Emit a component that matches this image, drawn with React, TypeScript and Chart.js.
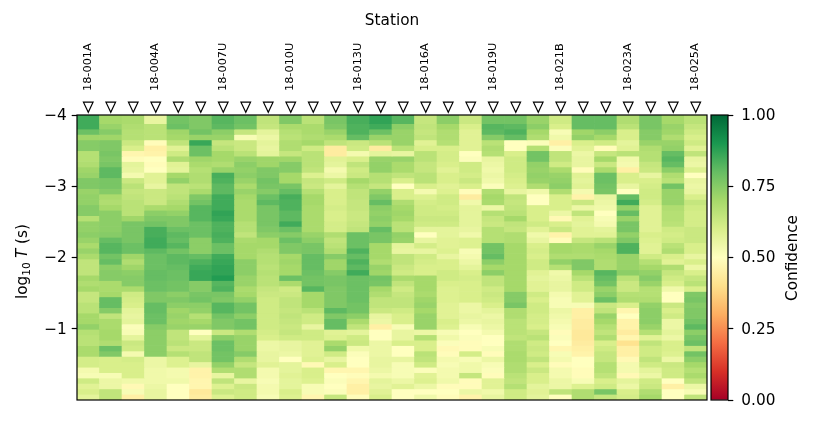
import React, { useEffect, useRef } from "react";
import { Chart, registerables } from "chart.js";

Chart.register(...registerables);

const FONT = "'DejaVu Sans'";

const stationLabels = [
  "18-001A", "", "", "18-004A", "", "", "18-007U", "", "", "18-010U", "", "", "18-013U", "",
  "", "18-016A", "", "", "18-019U", "", "", "18-021B", "", "", "18-023A", "", "", "18-025A",
];

const yTicks = [-4, -3, -2, -1];
const cbarTicks = [0, 0.25, 0.5, 0.75, 1];
const markerLevel = -4.112;

// log10 T edges of the rows: the first row is wider than the others
const firstRowEnd = -3.8786;
const rowStep = 0.07597;

const col01 = [.85,.85,.79,.71,.75,.75,.67,.67,.68,.71,.72,.76,.76,.72,.73,.73,.75,.75,.67,.73,.73,.74,.72,.69,.72,.69,.65,.65,.65,.7,.68,.7,.64,.64,.66,.66,.7,.7,.73,.67,.66,.66,.69,.69,.61,.61,.53,.52,.62,.58,.6,.57];
const col02 = [.7,.72,.75,.71,.76,.76,.77,.76,.77,.81,.81,.77,.77,.75,.69,.68,.7,.74,.74,.74,.74,.75,.8,.82,.82,.78,.8,.74,.75,.75,.69,.69,.7,.8,.8,.75,.65,.69,.69,.7,.7,.68,.79,.76,.6,.6,.6,.52,.55,.55,.65,.65];
const col03 = [.69,.68,.67,.67,.63,.6,.47,.49,.57,.56,.53,.63,.66,.64,.65,.66,.66,.66,.71,.77,.77,.77,.77,.79,.79,.71,.68,.71,.74,.75,.75,.69,.62,.61,.6,.57,.56,.57,.51,.52,.57,.63,.62,.53,.61,.6,.6,.6,.54,.48,.52,.45];
const col04 = [.56,.66,.66,.66,.49,.45,.46,.5,.49,.5,.58,.58,.56,.63,.63,.63,.69,.74,.76,.78,.84,.84,.85,.85,.81,.79,.79,.79,.8,.8,.79,.79,.76,.76,.8,.8,.79,.79,.75,.74,.74,.74,.74,.74,.55,.55,.54,.54,.54,.55,.56,.56];
const col05 = [.78,.79,.71,.7,.65,.58,.62,.68,.58,.57,.7,.73,.65,.65,.66,.68,.7,.73,.76,.76,.79,.81,.8,.82,.78,.81,.81,.8,.79,.79,.78,.78,.74,.76,.74,.71,.72,.71,.72,.65,.65,.66,.63,.67,.59,.59,.53,.53,.54,.5,.5,.5];
const col06 = [.76,.76,.78,.72,.86,.79,.79,.71,.69,.67,.68,.68,.66,.69,.76,.78,.82,.82,.82,.79,.79,.79,.74,.74,.74,.8,.83,.85,.86,.86,.75,.75,.77,.78,.74,.73,.67,.7,.72,.5,.57,.63,.63,.65,.65,.56,.46,.46,.47,.47,.43,.44];
const col07 = [.82,.81,.74,.72,.64,.66,.7,.7,.68,.72,.84,.83,.81,.81,.85,.85,.85,.87,.86,.83,.83,.84,.83,.79,.79,.85,.86,.87,.87,.89,.82,.83,.77,.76,.82,.82,.78,.76,.76,.63,.74,.79,.79,.78,.78,.73,.68,.56,.65,.59,.63,.59];
const col08 = [.79,.78,.64,.52,.63,.63,.66,.72,.74,.73,.74,.72,.69,.72,.7,.69,.69,.69,.69,.67,.67,.65,.69,.7,.7,.7,.74,.74,.74,.72,.72,.69,.7,.73,.78,.78,.74,.78,.78,.68,.72,.72,.72,.75,.68,.64,.68,.68,.56,.63,.62,.62];
const col09 = [.65,.64,.57,.55,.57,.56,.57,.71,.71,.76,.76,.78,.77,.75,.79,.81,.77,.77,.77,.77,.76,.74,.7,.7,.68,.67,.67,.66,.67,.66,.66,.64,.63,.62,.62,.62,.62,.62,.62,.61,.6,.55,.55,.56,.56,.58,.53,.53,.52,.53,.53,.52];
const col10 = [.76,.69,.67,.66,.68,.68,.64,.71,.75,.75,.7,.7,.77,.8,.84,.83,.83,.81,.81,.85,.79,.75,.79,.76,.76,.7,.71,.7,.7,.79,.69,.62,.63,.65,.65,.64,.65,.64,.63,.64,.62,.56,.56,.55,.5,.57,.57,.58,.57,.57,.6,.59];
const col11 = [.66,.69,.69,.68,.7,.62,.66,.66,.66,.65,.59,.64,.63,.67,.7,.7,.69,.69,.69,.69,.69,.72,.74,.77,.77,.8,.8,.8,.79,.78,.78,.82,.7,.7,.7,.66,.62,.62,.56,.62,.62,.58,.58,.58,.59,.48,.6,.6,.59,.52,.52,.47];
const col12 = [.77,.76,.72,.69,.65,.44,.44,.58,.57,.53,.55,.62,.57,.6,.6,.6,.61,.6,.6,.61,.61,.68,.65,.66,.68,.75,.71,.71,.75,.77,.77,.76,.76,.76,.76,.81,.76,.8,.8,.58,.59,.69,.73,.62,.56,.6,.47,.5,.51,.5,.51,.64];
const col13 = [.84,.83,.83,.8,.63,.62,.53,.6,.65,.62,.63,.7,.67,.65,.65,.64,.64,.63,.63,.64,.65,.79,.79,.79,.83,.8,.83,.81,.85,.79,.79,.79,.79,.79,.78,.78,.74,.69,.65,.57,.62,.63,.54,.51,.5,.5,.47,.49,.47,.45,.45,.49];
const col14 = [.87,.85,.79,.72,.66,.44,.57,.72,.73,.73,.67,.67,.64,.73,.76,.8,.74,.73,.74,.73,.8,.77,.77,.7,.7,.7,.68,.72,.71,.78,.77,.7,.68,.65,.65,.63,.56,.55,.45,.5,.5,.55,.55,.55,.56,.56,.55,.53,.57,.56,.58,.6];
const col15 = [.82,.74,.72,.72,.72,.66,.56,.72,.69,.69,.65,.6,.5,.6,.6,.68,.7,.71,.7,.66,.66,.73,.72,.57,.56,.65,.65,.63,.62,.69,.65,.62,.64,.65,.65,.62,.6,.6,.52,.56,.56,.6,.5,.5,.56,.52,.52,.52,.55,.58,.5,.5];
const col16 = [.64,.65,.64,.65,.58,.6,.66,.66,.64,.64,.66,.66,.6,.53,.59,.61,.62,.62,.63,.62,.57,.5,.56,.61,.56,.62,.61,.6,.6,.7,.7,.7,.69,.71,.72,.7,.72,.72,.72,.55,.67,.6,.6,.66,.65,.62,.51,.58,.59,.55,.5,.54];
const col17 = [.74,.7,.68,.68,.67,.6,.61,.61,.6,.58,.6,.6,.58,.59,.62,.62,.61,.62,.63,.62,.57,.57,.58,.58,.59,.56,.6,.6,.62,.62,.6,.59,.59,.59,.58,.58,.58,.6,.59,.52,.54,.51,.48,.49,.53,.52,.53,.53,.54,.49,.5,.49];
const col18 = [.63,.6,.58,.58,.58,.58,.5,.51,.62,.62,.61,.63,.6,.49,.44,.54,.57,.57,.57,.57,.56,.54,.59,.59,.52,.53,.55,.57,.6,.61,.6,.6,.6,.6,.55,.55,.56,.55,.52,.5,.51,.49,.49,.61,.52,.54,.54,.64,.49,.49,.55,.46];
const col19 = [.78,.82,.81,.75,.66,.68,.67,.56,.55,.54,.55,.54,.51,.68,.7,.69,.55,.67,.64,.63,.67,.67,.67,.78,.78,.8,.74,.7,.74,.65,.65,.62,.63,.62,.6,.57,.55,.56,.55,.53,.5,.5,.52,.49,.55,.52,.51,.49,.58,.58,.54,.56];
const col20 = [.78,.81,.83,.8,.5,.5,.6,.62,.62,.62,.61,.6,.59,.56,.65,.64,.65,.66,.7,.65,.64,.68,.68,.7,.7,.7,.7,.7,.7,.7,.7,.7,.75,.75,.77,.68,.68,.66,.66,.66,.65,.68,.68,.69,.69,.68,.68,.66,.65,.67,.62,.62];
const col21 = [.72,.74,.7,.68,.51,.67,.78,.78,.73,.72,.73,.72,.68,.54,.5,.5,.6,.6,.6,.62,.58,.54,.56,.6,.61,.6,.62,.62,.58,.57,.58,.58,.62,.6,.62,.62,.61,.61,.6,.64,.66,.62,.63,.62,.65,.6,.63,.6,.6,.57,.58,.57];
const col22 = [.62,.6,.52,.54,.45,.51,.65,.65,.62,.69,.72,.73,.74,.68,.6,.6,.6,.55,.48,.6,.63,.46,.49,.7,.7,.68,.73,.67,.54,.55,.56,.56,.53,.52,.52,.55,.54,.53,.52,.49,.51,.5,.47,.52,.53,.49,.53,.53,.55,.55,.65,.5];
const col23 = [.8,.8,.71,.73,.6,.58,.55,.56,.56,.49,.58,.57,.58,.53,.46,.63,.55,.65,.58,.57,.58,.58,.64,.69,.69,.68,.76,.76,.7,.66,.62,.62,.58,.58,.52,.45,.45,.44,.44,.43,.43,.44,.45,.46,.5,.5,.49,.49,.52,.59,.68,.68];
const col24 = [.8,.8,.74,.7,.62,.49,.64,.7,.63,.69,.79,.79,.78,.77,.56,.55,.54,.5,.52,.53,.57,.58,.66,.72,.7,.69,.68,.68,.82,.8,.78,.72,.74,.79,.63,.65,.72,.7,.67,.65,.68,.6,.62,.64,.64,.67,.67,.65,.6,.62,.77,.64];
const col25 = [.68,.66,.6,.6,.57,.58,.66,.54,.53,.45,.6,.6,.56,.5,.8,.85,.73,.8,.72,.77,.77,.73,.76,.83,.83,.72,.72,.72,.74,.66,.63,.63,.67,.68,.6,.47,.5,.46,.46,.44,.47,.41,.45,.45,.48,.53,.53,.48,.57,.55,.6,.61];
const col26 = [.77,.77,.75,.75,.72,.68,.67,.67,.64,.63,.56,.6,.61,.62,.62,.61,.58,.58,.58,.58,.58,.6,.59,.58,.58,.62,.67,.7,.73,.75,.72,.67,.67,.68,.73,.74,.74,.74,.72,.67,.58,.65,.62,.62,.65,.62,.57,.55,.62,.63,.68,.7];
const col27 = [.7,.72,.71,.68,.72,.73,.8,.82,.8,.74,.68,.66,.78,.72,.72,.72,.68,.67,.67,.66,.62,.61,.62,.66,.68,.6,.58,.68,.64,.62,.6,.54,.5,.5,.63,.6,.62,.55,.55,.57,.55,.6,.6,.59,.55,.63,.62,.62,.5,.45,.5,.5];
const col28 = [.66,.64,.62,.6,.62,.58,.65,.56,.55,.59,.5,.56,.55,.56,.6,.64,.62,.61,.61,.61,.63,.63,.63,.6,.6,.56,.6,.55,.6,.64,.66,.6,.76,.77,.75,.76,.76,.78,.81,.74,.77,.79,.65,.78,.74,.7,.67,.69,.65,.55,.52,.65];

const columns = [col01,col02,col03,col04,col05,col06,col07,col08,col09,col10,col11,col12,col13,col14,col15,col16,col17,col18,col19,col20,col21,col22,col23,col24,col25,col26,col27,col28];

const cmapStops: [number, number, number][] = [
  [165,0,38],[215,48,39],[244,109,67],[253,174,97],[254,224,139],[255,255,191],
  [217,239,139],[166,217,106],[102,189,99],[26,152,80],[0,104,55],
];

function cmap(v: number): string {
  const p = Math.max(0, Math.min(1, v)) * (cmapStops.length - 1);
  const i = Math.min(Math.floor(p), cmapStops.length - 2);
  const t = p - i;
  const c = cmapStops[i].map((a, k) => Math.round(a + (cmapStops[i + 1][k] - a) * t));
  return `rgb(${c[0]},${c[1]},${c[2]})`;
}

function rowEdge(i: number): number {
  return i === 0 ? -4 : firstRowEnd + (i - 1) * rowStep;
}

const framePlugin = {
  id: "frame",
  afterDatasetsDraw(chart: any) {
    const { left, top, width, height } = chart.chartArea;
    const ctx = chart.ctx;
    ctx.save();
    ctx.strokeStyle = "#000";
    ctx.lineWidth = 1.2;
    ctx.strokeRect(left, top, width, height);
    ctx.restore();
  },
};

// Chart.js skips points outside the chart area, so the station markers are stroked here from the scales.
const markerPlugin = {
  id: "stationMarkers",
  afterDatasetsDraw(chart: any) {
    const ctx = chart.ctx;
    const y = chart.scales.y.getPixelForValue(markerLevel);
    ctx.save();
    ctx.fillStyle = "#fff";
    ctx.strokeStyle = "#000";
    ctx.lineWidth = 1.2;
    stationLabels.forEach((_, i) => {
      const x = chart.scales.x.getPixelForValue(i);
      ctx.beginPath();
      ctx.moveTo(x, y + 5.3);
      ctx.lineTo(x - 4.8, y - 4.8);
      ctx.lineTo(x + 4.8, y - 4.8);
      ctx.closePath();
      ctx.fill();
      ctx.stroke();
    });
    ctx.restore();
  },
};

const yTitlePlugin = {
  id: "yTitle",
  afterDraw(chart: any) {
    const ctx = chart.ctx;
    ctx.save();
    ctx.translate(27, 258);
    ctx.rotate(-Math.PI / 2);
    ctx.fillStyle = "#000";
    ctx.textBaseline = "alphabetic";
    ctx.textAlign = "left";
    let x = -41;
    const part = (s: string, font: string, dy: number) => {
      ctx.font = font;
      ctx.fillText(s, x, dy);
      x += ctx.measureText(s).width;
    };
    part("log", `15.3px ${FONT}`, 0);
    part("10", `10.7px ${FONT}`, 2.5);
    x += 4;
    part("T", `italic 15.3px ${FONT}`, 0);
    part(" (s)", `15.3px ${FONT}`, 0);
    ctx.restore();
  },
};

const cbarTitlePlugin = {
  id: "cbarTitle",
  afterDraw(chart: any) {
    const ctx = chart.ctx;
    ctx.save();
    ctx.translate(93, 258);
    ctx.rotate(-Math.PI / 2);
    ctx.fillStyle = "#000";
    ctx.font = `15.3px ${FONT}`;
    ctx.textAlign = "center";
    ctx.textBaseline = "middle";
    ctx.fillText("Confidence", 0, 0);
    ctx.restore();
  },
};

export default function App() {
  const mainRef = useRef<HTMLCanvasElement>(null);
  const cbarRef = useRef<HTMLCanvasElement>(null);

  useEffect(() => {
    const rows = columns[0].map((_, r) => r);
    const cellSets = rows.map((r) => ({
      type: "bar" as const,
      data: columns.map(() => [rowEdge(r), rowEdge(r + 1)]),
      backgroundColor: columns.map((col) => cmap(col[r])),
      borderWidth: 0,
      barPercentage: 1,
      categoryPercentage: 1,
      grouped: false,
    }));

    const main = new Chart(mainRef.current!, {
      type: "bar",
      data: { labels: stationLabels, datasets: cellSets as any },
      options: {
        animation: false,
        responsive: false,
        events: [],
        layout: { padding: { top: 12, right: 2, bottom: 23, left: 0 }, autoPadding: false },
        plugins: { legend: { display: false }, tooltip: { enabled: false } },
        scales: {
          x: {
            type: "category",
            position: "top",
            offset: true,
            grid: { display: false },
            border: { display: false },
            ticks: {
              autoSkip: false,
              minRotation: 90,
              maxRotation: 90,
              padding: 16,
              labelOffset: 13,
              color: "#000",
              font: { family: FONT, size: 11.3 },
            },
            title: {
              display: true,
              text: "Station",
              color: "#000",
              font: { family: FONT, size: 15.3 },
              padding: { top: 0, bottom: 0 },
            },
            afterFit: (s: any) => {
              s.height = 103;
              s.paddingLeft = 0;
              s.paddingRight = 0;
            },
          },
          y: {
            type: "linear",
            reverse: true,
            min: -4,
            max: 0,
            afterBuildTicks: (s: any) => {
              s.ticks = yTicks.map((value) => ({ value }));
            },
            grid: {
              display: true,
              drawOnChartArea: false,
              drawTicks: true,
              tickLength: 5.3,
              tickWidth: 1.2,
              tickColor: "#000",
            },
            border: { display: false },
            ticks: {
              padding: 5,
              labelOffset: 1,
              color: "#000",
              font: { family: FONT, size: 15.3 },
              callback: (v: any) => `\u2212${Math.abs(Number(v))}`,
            },
            afterFit: (s: any) => {
              s.width = 77;
            },
          },
        },
      },
      plugins: [framePlugin, markerPlugin, yTitlePlugin],
    } as any);

    const gradientFill = (ctx: any) => {
      const area = ctx.chart.chartArea;
      if (!area) return "#888";
      const g = ctx.chart.ctx.createLinearGradient(0, area.bottom, 0, area.top);
      cmapStops.forEach((_, i) => {
        const t = i / (cmapStops.length - 1);
        g.addColorStop(t, cmap(t));
      });
      return g;
    };

    const cbar = new Chart(cbarRef.current!, {
      type: "bar",
      data: {
        labels: ["Confidence"],
        datasets: [
          {
            data: [[0, 1]],
            backgroundColor: gradientFill,
            borderWidth: 0,
            barPercentage: 1,
            categoryPercentage: 1,
          },
        ],
      },
      options: {
        animation: false,
        responsive: false,
        events: [],
        layout: { padding: { top: 115, right: 0, bottom: 23, left: 11 }, autoPadding: false },
        plugins: { legend: { display: false }, tooltip: { enabled: false } },
        scales: {
          x: { display: false, offset: true },
          y: {
            position: "right",
            min: 0,
            max: 1,
            afterBuildTicks: (s: any) => {
              s.ticks = cbarTicks.map((value) => ({ value }));
            },
            grid: {
              display: true,
              drawOnChartArea: false,
              drawTicks: true,
              tickLength: 5.3,
              tickWidth: 1.2,
              tickColor: "#000",
            },
            border: { display: false },
            ticks: {
              padding: 8,
              labelOffset: 1,
              color: "#000",
              font: { family: FONT, size: 15.3 },
              callback: (v: any) => Number(v).toFixed(2),
            },
            afterFit: (s: any) => {
              s.width = 85;
            },
          },
        },
      },
      plugins: [framePlugin, cbarTitlePlugin],
    } as any);

    return () => {
      main.destroy();
      cbar.destroy();
    };
  }, []);

  return (
    <div style={{ position: "absolute", left: 0, top: 0, width: 813, height: 423, overflow: "hidden", background: "#fff" }}>
      <canvas ref={mainRef} width={709} height={423} style={{ position: "absolute", left: 0, top: 0 }} />
      <canvas ref={cbarRef} width={113} height={423} style={{ position: "absolute", left: 700, top: 0 }} />
    </div>
  );
}
